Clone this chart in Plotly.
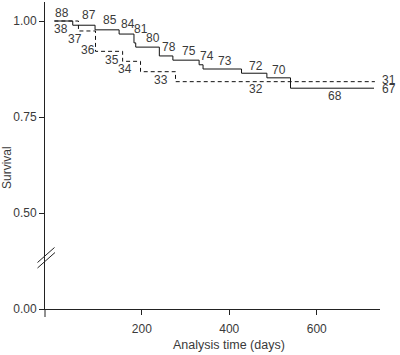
import plotly.graph_objects as go

# ---- data ----
solid_days = [0, 42, 93, 148, 182, 186, 240, 271, 331, 340, 428, 486, 540, 731]
solid_surv = [1.0, 0.989, 0.977, 0.966, 0.943, 0.932, 0.909, 0.898, 0.886, 0.875, 0.864, 0.852, 0.825, 0.825]

dashed_days = [0, 55, 94, 156, 197, 277, 733]
dashed_surv = [1.0, 0.974, 0.921, 0.895, 0.868, 0.842, 0.842]

solid_risk = [88, 87, 85, 84, 81, 80, 78, 75, 74, 73, 72, 70, 68, 67]
solid_risk_days = [17, 78, 128, 168, 197, 226, 261, 308, 350, 391, 461, 513, 642, 765]
solid_risk_y = [1.022, 1.015, 1.002, 0.993, 0.978, 0.956, 0.933, 0.921, 0.910, 0.897, 0.884, 0.872, 0.804, 0.822]

dashed_risk = [38, 37, 36, 35, 34, 33, 32, 31]
dashed_risk_days = [15, 47, 76, 132, 162, 243, 460, 765]
dashed_risk_y = [0.980, 0.954, 0.924, 0.898, 0.874, 0.847, 0.822, 0.846]

y_ticks = [0.0, 0.5, 0.75, 1.0]
y_tick_text = ["0.00", "0.50", "0.75", "1.00"]
x_ticks = [200, 400, 600]

X_RANGE = [-21.5, 744.7]


# broken y axis: 0..0.5 compressed to half scale
def t(v):
    return v - 0.25 if v >= 0.5 else v / 2.0


def tl(vals):
    return [t(v) for v in vals]


W, H = 400, 355
ML, MR, MT, MB = 45, 20, 2, 46
PW, PH = W - ML - MR, H - MT - MB

def px2paper_x(px):
    return (px - ML) / PW

def px2paper_y(py):
    return (H - MB - py) / PH

def day2paper(d):
    return (d - X_RANGE[0]) / (X_RANGE[1] - X_RANGE[0])

FONT = "Liberation Sans, Arial, Helvetica, sans-serif"
TXT = "#3a3a3a"

fig = go.Figure()
fig.add_trace(go.Scatter(x=dashed_days, y=tl(dashed_surv), mode="lines",
                         line=dict(shape="hv", color="#111", width=1, dash="4px,3px"),
                         hoverinfo="skip"))
fig.add_trace(go.Scatter(x=solid_days, y=tl(solid_surv), mode="lines",
                         line=dict(shape="hv", color="#111", width=1),
                         hoverinfo="skip"))

annotations = []
for days, ys, counts in [(solid_risk_days, solid_risk_y, solid_risk),
                         (dashed_risk_days, dashed_risk_y, dashed_risk)]:
    for d, yv, c in zip(days, ys, counts):
        annotations.append(dict(x=day2paper(d), y=t(yv), xref="paper", yref="y", text=str(c),
                                showarrow=False, xanchor="center", yanchor="middle",
                                font=dict(family=FONT, size=12, color=TXT)))

shapes = []
# y-axis extension below the x-axis
shapes.append(dict(type="line", xref="paper", yref="paper", x0=0, x1=0,
                   y0=0, y1=px2paper_y(317), line=dict(color="#222", width=1)))
# break marks
for (x0, y0, x1, y1) in [(37.5, 262.5, 54.5, 247.5), (37.5, 268.0, 55.0, 252.5)]:
    shapes.append(dict(type="line", xref="paper", yref="paper",
                       x0=px2paper_x(x0), y0=px2paper_y(y0),
                       x1=px2paper_x(x1), y1=px2paper_y(y1),
                       line=dict(color="#222", width=1)))

annotations += [
    dict(text="Survival", xref="paper", yref="paper", x=px2paper_x(7), y=px2paper_y(168),
         showarrow=False, textangle=-90, font=dict(family=FONT, size=12, color=TXT),
         xanchor="center", yanchor="middle"),
    dict(text="Analysis time (days)", xref="paper", yref="paper", x=px2paper_x(229),
         y=px2paper_y(345), showarrow=False, font=dict(family=FONT, size=12.5, color=TXT),
         xanchor="center", yanchor="middle"),
]

fig.update_layout(
    width=W, height=H,
    margin=dict(l=ML, r=MR, t=MT, b=MB),
    paper_bgcolor="white", plot_bgcolor="white",
    showlegend=False,
    shapes=shapes, annotations=annotations,
    font=dict(family=FONT, size=12, color=TXT),
    xaxis=dict(range=X_RANGE, tickvals=x_ticks, showgrid=False, zeroline=False,
               showline=True, linecolor="#222", linewidth=1, ticks="outside",
               ticklen=5, tickcolor="#222", tickfont=dict(family=FONT, size=12, color=TXT),
               ticklabelstandoff=4),
    yaxis=dict(range=[0, PH / 384.0], tickvals=tl(y_ticks), ticktext=y_tick_text,
               showgrid=False, zeroline=False, showline=True, linecolor="#222", linewidth=1,
               ticks="outside", ticklen=5, tickcolor="#222",
               tickfont=dict(family=FONT, size=12, color=TXT)),
)

fig.write_html("out.html", config={"displayModeBar": False},
               post_script="document.body.style.margin='0';document.body.style.overflow='hidden';")
